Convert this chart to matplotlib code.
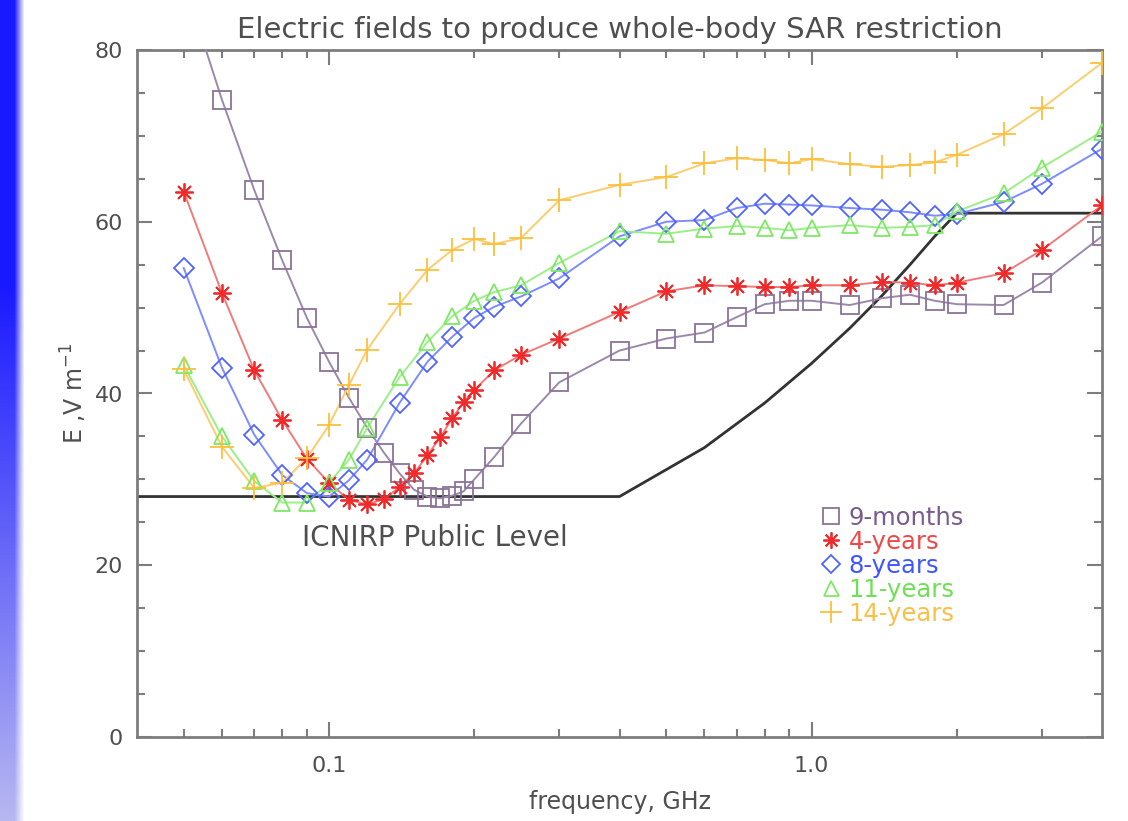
import matplotlib

matplotlib.use("Agg")
import matplotlib.pyplot as plt
import numpy as np
from matplotlib.lines import Line2D
from matplotlib.ticker import FixedLocator, NullFormatter

# frequencies in GHz
FREQ_FINE = [0.05, 0.06, 0.07, 0.08, 0.09, 0.10, 0.11, 0.12, 0.13, 0.14, 0.15, 0.16,
             0.17, 0.18, 0.19, 0.20, 0.22, 0.25, 0.30, 0.40, 0.50, 0.60, 0.70, 0.80,
             0.90, 1.0, 1.2, 1.4, 1.6, 1.8, 2.0, 2.5, 3.0, 4.0]
FREQ_COARSE = [0.05, 0.06, 0.07, 0.08, 0.09, 0.10, 0.11, 0.12, 0.14, 0.16, 0.18, 0.20,
               0.22, 0.25, 0.30, 0.40, 0.50, 0.60, 0.70, 0.80, 0.90, 1.0, 1.2, 1.4,
               1.6, 1.8, 2.0, 2.5, 3.0, 4.0]

E_9_MONTHS = [88.0, 74.2, 63.7, 55.5, 48.8, 43.7, 39.5, 36.0, 33.1, 30.7, 28.8, 28.0,
              27.8, 28.1, 28.6, 30.0, 32.6, 36.5, 41.3, 45.0, 46.4, 47.1, 48.9, 50.4,
              50.8, 50.8, 50.3, 51.1, 51.5, 50.8, 50.4, 50.3, 52.9, 58.3]
E_4_YEARS = [63.5, 51.7, 42.7, 36.9, 32.4, 29.6, 27.6, 27.1, 27.7, 29.1, 30.7, 32.8,
             34.9, 37.1, 39.0, 40.4, 42.7, 44.5, 46.4, 49.5, 51.9, 52.6, 52.5, 52.4,
             52.4, 52.6, 52.6, 53.0, 52.9, 52.6, 52.9, 54.0, 56.7, 61.9]
E_8_YEARS = [54.6, 43.0, 35.2, 30.5, 28.4, 28.0, 29.9, 32.3, 38.9, 43.7, 46.6, 48.8,
             50.1, 51.3, 53.4, 58.3, 60.0, 60.2, 61.6, 62.1, 62.0, 61.9, 61.6, 61.4,
             61.1, 60.7, 60.9, 62.3, 64.4, 68.5]
E_11_YEARS = [43.3, 35.0, 29.8, 27.3, 27.3, 29.6, 32.3, 36.0, 41.9, 46.0, 49.0, 50.8,
              51.8, 52.6, 55.2, 58.9, 58.6, 59.2, 59.5, 59.3, 59.0, 59.3, 59.6, 59.3,
              59.4, 59.6, 61.2, 63.3, 66.3, 70.5]
E_14_YEARS = [42.8, 33.8, 29.0, 29.6, 32.5, 36.3, 41.0, 45.1, 50.4, 54.4, 56.7, 58.0,
              57.4, 58.1, 62.5, 64.3, 65.2, 66.8, 67.4, 67.2, 66.8, 67.3, 66.7, 66.4,
              66.6, 66.9, 67.8, 70.2, 73.2, 78.5]

ICNIRP_FREQ = [0.04, 0.4, 0.6, 0.8, 1.0, 1.2, 1.4, 1.6, 1.8, 2.0, 4.0]
ICNIRP_E = [28.0, 28.0, 33.7, 38.9, 43.5, 47.6, 51.4, 55.0, 58.3, 61.0, 61.0]

SERIES = [
    ("9-months", FREQ_FINE, E_9_MONTHS, "s", "#8a7399", "#9c88ab", "#7a5c8c"),
    ("4-years", FREQ_FINE, E_4_YEARS, (8, 2, 0), "#f02a2a", "#f07b7b", "#ee4848"),
    ("8-years", FREQ_COARSE, E_8_YEARS, "D", "#4f63ff", "#7d8cff", "#3e55ff"),
    ("11-years", FREQ_COARSE, E_11_YEARS, "^", "#7ee866", "#9cee88", "#6fe055"),
    ("14-years", FREQ_COARSE, E_14_YEARS, "+", "#fbbf3c", "#fbcd6e", "#f8c048"),
]
MSIZE = {"s": 13, "D": 10, "^": 12, "+": 17}

AXIS_GREY = "#7d7d7d"
TEXT_GREY = "#4f4f4f"

fig = plt.figure(figsize=(11.28, 8.21), dpi=100)

# blue gradient strip on the left edge
bg = fig.add_axes([0, 0, 1, 1], zorder=-5)
h, w = 821, 1128
yy = np.linspace(0, 1, h)[:, None]
xx = np.arange(w)[None, :]
fade = np.clip(1 - (xx - 14) / 10.0, 0, 1)
top_blue = np.array([0.10, 0.10, 1.0])
bottom_blue = np.array([0.72, 0.72, 0.95])
col = top_blue + (bottom_blue - top_blue) * np.clip((yy - 0.35) / 0.65, 0, 1)[..., None]
img = np.ones((h, w, 3))
img = img * (1 - fade[..., None]) + col * fade[..., None]
bg.imshow(img, aspect="auto", extent=(0, 1, 0, 1), origin="upper")
bg.set_axis_off()

ax = fig.add_axes([137 / 1128, 84 / 821, 965 / 1128, 687 / 821])
ax.set_xscale("log")
ax.set_xlim(0.04, 4.0)
ax.set_ylim(0, 80)

ax.plot(ICNIRP_FREQ, ICNIRP_E, color="#333333", linewidth=2.0, zorder=2)

for label, freq, values, marker, mcolor, lcolor, tcolor in SERIES:
    ax.plot(freq, values, color=lcolor, linewidth=1.4, zorder=3)
    ax.plot(freq, values, linestyle="none", marker=marker, markersize=MSIZE.get(marker, 13),
            markerfacecolor="none", markeredgecolor=mcolor, markeredgewidth=1.3, zorder=4)

ax.text(0.088, 23.2, "ICNIRP Public Level", color=TEXT_GREY, fontsize=20, va="center")

handles = [Line2D([], [], linestyle="none", marker=m, markersize=MSIZE.get(m, 13) * 0.9,
                  markerfacecolor="none", markeredgecolor=mc, markeredgewidth=1.3)
           for _, _, _, m, mc, _, _ in SERIES]
leg = ax.legend(handles, [s[0] for s in SERIES], loc="upper left",
                bbox_to_anchor=(0.697, 0.354), frameon=False, fontsize=17.5,
                handlelength=0.8, handletextpad=0.3, labelspacing=0.0, borderpad=0)
for text, s in zip(leg.get_texts(), SERIES):
    text.set_color(s[6])

ax.xaxis.set_major_locator(FixedLocator([0.1, 1.0]))
ax.set_xticklabels(["0.1", "1.0"])
ax.xaxis.set_minor_locator(FixedLocator([0.05, 0.06, 0.07, 0.08, 0.09, 0.2, 0.3, 0.4, 0.5,
                                         0.6, 0.7, 0.8, 0.9, 2.0, 3.0]))
ax.xaxis.set_minor_formatter(NullFormatter())
ax.set_yticks([0, 20, 40, 60, 80])
ax.set_yticks(np.arange(0, 81, 5), minor=True)

ax.tick_params(which="both", direction="in", top=True, right=True, colors=AXIS_GREY,
               labelcolor=TEXT_GREY, labelsize=16, width=1.5)
ax.tick_params(axis="x", which="major", pad=14)
ax.tick_params(axis="y", which="major", pad=10)
ax.tick_params(which="major", length=11)
ax.tick_params(which="minor", length=6)
for spine in ax.spines.values():
    spine.set_color(AXIS_GREY)
    spine.set_linewidth(2.0)

ax.set_xlabel("frequency, GHz", color=TEXT_GREY, fontsize=17, labelpad=10)
ax.set_ylabel(r"E ,V m$^{-1}$", color=TEXT_GREY, fontsize=17, labelpad=4)
ax.set_title("Electric fields to produce whole-body SAR restriction", color=TEXT_GREY,
             fontsize=21, pad=9)

fig.savefig("out.png", dpi=100)
